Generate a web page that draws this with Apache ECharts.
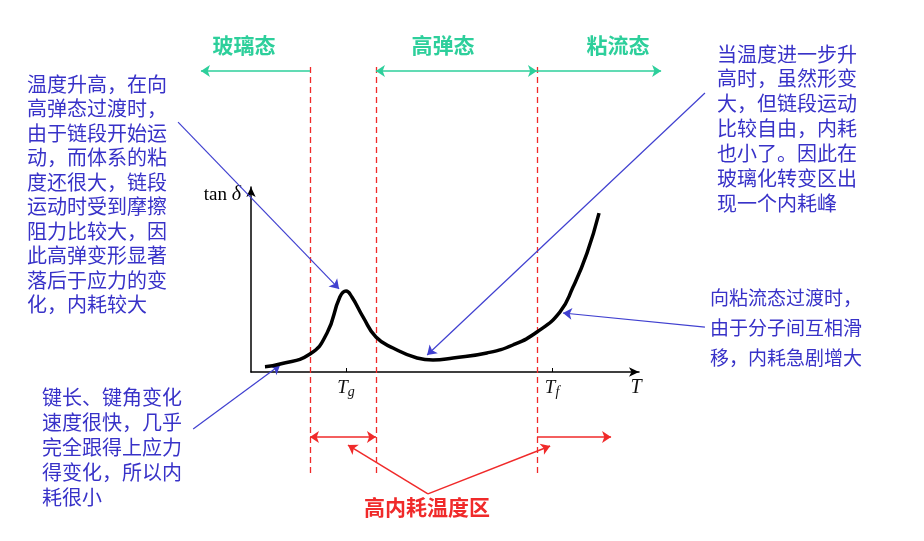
<!DOCTYPE html>
<html>
<head>
<meta charset="utf-8">
<script src="https://cdn.jsdelivr.net/npm/echarts@6/dist/echarts.min.js"></script>
<style>html,body{margin:0;padding:0;background:#fff;}#c{width:924px;height:541px;}</style>
</head>
<body>
<div id="c"></div>
<script>
// ---- data (temperature units on x, tan δ units on y) ----
const temps    = [3.6, 7.5, 15.2, 19.6, 22.9, 24.5, 26.0, 28.9, 32.2, 36.6, 42.8, 46.9, 52.1, 60.8, 67.5, 73.7, 79.6, 83.0, 86.6, 89.7];
const tanDelta = [2.9, 4.3, 9.7, 21.1, 40.5, 43.8, 40.5, 29.7, 18.9, 13.0, 7.6, 6.5, 7.6, 10.3, 14.6, 21.6, 32.4, 45.9, 64.3, 85.9];
const tickValues = [24.5, 77.6];
const tickSubs   = ['g', 'f'];
const boundaries = [15.2, 32.2, 73.7];
const boundaryYRange = [-54.6, 167];
const stateLabels = ['玻璃态', '高弹态', '粘流态'];
const stateArrowY = 162.7;
const stateSingle = [[15.2, -12.9], [73.7, 105.7]];
const stateDouble = [[32.2, 73.7]];
const highLossY = -35.1;
const highLossDouble = [[15.2, 32.2]];
const highLossSingle = [[73.7, 92.8]];
const highLossPointers = [[[45.6, -65.9], [25.0, -39.5]], [[45.6, -65.9], [77.1, -40.0]]];
const noteArrows = [
  [[-18.8, 135.1], [22.7, 44.9]],
  [[117.0, 150.8], [45.4, 9.2]],
  [[117.0, 24.3], [80.4, 31.9]],
  [[-14.9, -30.8], [7.5, 3.8]]
];
const noteLeftTop = ['温度升高，在向','高弹态过渡时，','由于链段开始运','动，而体系的粘','度还很大，链段','运动时受到摩擦','阻力比较大，因','此高弹变形显著','落后于应力的变','化，内耗较大'];
const noteRightTop = ['当温度进一步升','高时，虽然形变','大，但链段运动','比较自由，内耗','也小了。因此在','玻璃化转变区出','现一个内耗峰'];
const noteRightMid = ['向粘流态过渡时，','由于分子间互相滑','移，内耗急剧增大'];
const noteLeftBottom = ['键长、键角变化','速度很快，几乎','完全跟得上应力','得变化，所以内','耗很小'];
const highLossLabel = '高内耗温度区';

// ---- styles ----
const GREEN = '#2dcf9b', RED = '#f02a2a', BLUE = '#4040d0', TEXTBLUE = '#3832c8';
const CJK = '"Noto Sans CJK SC", "Noto Sans", sans-serif';
const SERIF = '"Liberation Serif", "DejaVu Serif", serif';

const chart = echarts.init(document.getElementById('c'), null, {renderer: 'canvas'});

function linesSeries(data, color, symbol, extra) {
  return Object.assign({
    type: 'lines', coordinateSystem: 'cartesian2d', silent: true, clip: false,
    symbol: symbol, symbolSize: 9,
    lineStyle: {color: color, width: 1.5, opacity: 1, curveness: 0},
    data: data.map(c => ({coords: c}))
  }, extra || {});
}

const curveData = temps.map((t, i) => [t, tanDelta[i]]);

chart.setOption({
  animation: false,
  backgroundColor: '#fff',
  grid: {left: 251, right: 285, top: 187, bottom: 169},
  xAxis: {
    type: 'value', min: 0, max: 100,
    splitLine: {show: false},
    axisLine: {show: true, symbol: ['none', 'arrow'], symbolSize: [7, 10], lineStyle: {color: '#000', width: 1.5}},
    axisTick: {show: true, inside: true, length: 4, customValues: tickValues, lineStyle: {color: '#000'}},
    axisLabel: {
      show: true, margin: 5, customValues: tickValues,
      formatter: v => '{t|T}{s|' + tickSubs[tickValues.indexOf(v)] + '}',
      rich: {
        t: {fontFamily: SERIF, fontStyle: 'italic', fontSize: 19, color: '#111'},
        s: {fontFamily: SERIF, fontStyle: 'italic', fontSize: 14, color: '#111', padding: [8, 0, 0, 0]}
      }
    }
  },
  yAxis: {
    type: 'value', min: 0, max: 100,
    splitLine: {show: false},
    axisLine: {show: true, symbol: ['none', 'arrow'], symbolSize: [7, 10], lineStyle: {color: '#000', width: 1.5}},
    axisTick: {show: false},
    axisLabel: {show: false}
  },
  series: [
    {
      type: 'line', data: curveData, smooth: 0.5, showSymbol: false, silent: true,
      lineStyle: {color: '#000', width: 3.5}, z: 5
    },
    linesSeries(boundaries.map(b => [[b, boundaryYRange[0]], [b, boundaryYRange[1]]]), RED, ['none', 'none'],
      {lineStyle: {color: RED, width: 1.3, type: [6, 4], opacity: 1}}),
    linesSeries(stateSingle.map(s => [[s[0], stateArrowY], [s[1], stateArrowY]]), GREEN, ['none', 'arrow']),
    linesSeries(stateDouble.map(s => [[s[0], stateArrowY], [s[1], stateArrowY]]), GREEN, ['arrow', 'arrow']),
    linesSeries(highLossDouble.map(s => [[s[0], highLossY], [s[1], highLossY]]), RED, ['arrow', 'arrow']),
    linesSeries(highLossSingle.map(s => [[s[0], highLossY], [s[1], highLossY]]), RED, ['none', 'arrow']),
    linesSeries(highLossPointers, RED, ['none', 'arrow']),
    linesSeries(noteArrows, BLUE, ['none', 'arrow'], {lineStyle: {color: BLUE, width: 1.2, opacity: 1}})
  ]
});

function block(lines, left, top, size, lh, color) {
  return {
    type: 'text', left: left, top: top, silent: true,
    style: {text: lines.join('\n'), fontSize: size, fontFamily: CJK, lineHeight: lh, fill: color}
  };
}

const stateCenters = [244, 443, 618];
const graphics = [
  block(noteLeftTop, 27, 72, 20, 24.5, TEXTBLUE),
  block(noteRightTop, 717, 41.5, 20, 24.9, TEXTBLUE),
  block(noteRightMid, 710, 283, 19, 30, TEXTBLUE),
  block(noteLeftBottom, 42, 384.5, 20, 25, TEXTBLUE),
  {
    type: 'text', x: 427, y: 507, silent: true,
    style: {text: highLossLabel, fontSize: 21, fontWeight: 'bold', fontFamily: CJK, fill: RED, align: 'center', verticalAlign: 'middle'}
  },
  {
    type: 'text', x: 241, y: 195, silent: true,
    style: {text: '{a|tan }{b|δ}', align: 'right', verticalAlign: 'middle',
      rich: {a: {fontFamily: SERIF, fontSize: 19, color: '#111'},
             b: {fontFamily: SERIF, fontStyle: 'italic', fontSize: 20, color: '#111'}}}
  },
  {
    type: 'text', x: 636, y: 388, silent: true,
    style: {text: 'T', fontFamily: SERIF, fontStyle: 'italic', fontSize: 20, fill: '#111', align: 'center', verticalAlign: 'middle'}
  }
];
stateLabels.forEach((s, i) => graphics.push({
  type: 'text', x: stateCenters[i], y: 45, silent: true,
  style: {text: s, fontSize: 21, fontWeight: 'bold', fontFamily: CJK, fill: GREEN, align: 'center', verticalAlign: 'middle'}
}));
chart.setOption({graphic: graphics});
</script>
</body>
</html>
